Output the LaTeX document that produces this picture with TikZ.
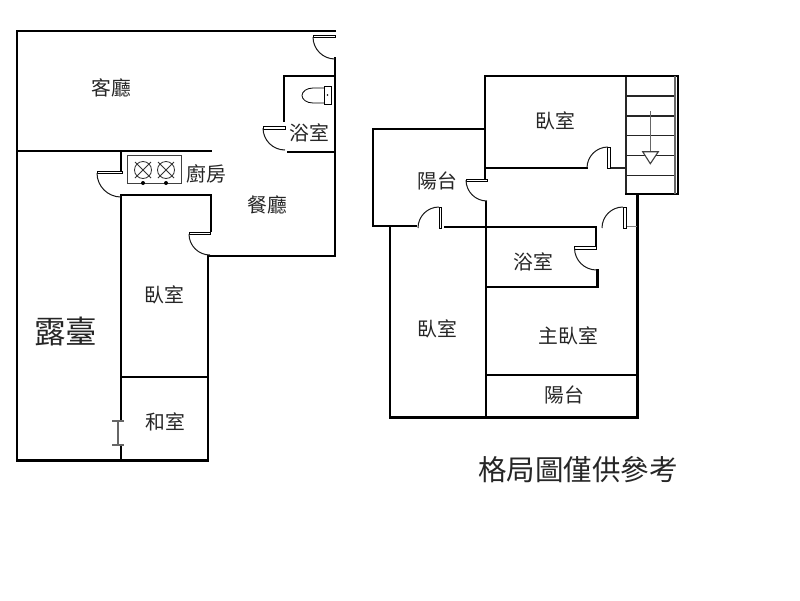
\documentclass[tikz,border=0pt]{standalone}
\usepackage{fontspec}
\setmainfont{Noto Sans CJK TC}
\tikzset{
  wall/.style={line width=2.4pt,line cap=rect,draw=black},
  hair/.style={line width=1.1pt,draw=black!85},
  grayline/.style={line width=1.3pt,draw=black!60},
  leaf/.style={line width=.8pt,draw=black,fill=white},
  swing/.style={line width=1pt,draw=black!90},
  room/.style={inner sep=0pt,text=black!85,font=\fontsize{19.8}{20}\selectfont},
}
\begin{document}
\begin{tikzpicture}[x=1pt,y=-1pt]
\useasboundingbox[fill=white] (0,0) rectangle (800,600);
% ---------- left plan ----------
\draw[wall] (335,31) -- (17,31) -- (17,460.5) -- (208,460.5) -- (208,256) -- (335,256) -- (335,58);
\draw[wall] (17,151) -- (211,151);
\draw[wall] (121,151) -- (121,172);
\draw[wall] (121,195) -- (211,195) -- (211,231);
\draw[wall] (121,195) -- (121,421);
\draw[wall] (121,445) -- (121,460);
\draw[wall] (121,377) -- (208,377);
\draw[wall] (335,76) -- (284,76) -- (284,121);
\draw[wall] (288,152) -- (335,152);
% doors, left
\draw[leaf] (313,35) rectangle (335,37.5);
\draw[swing] (313,37) arc[start angle=180,end angle=90,radius=22];
\draw[leaf] (263,126.5) rectangle (285,129);
\draw[swing] (263,128) arc[start angle=180,end angle=90,radius=22];
\draw[leaf] (97,171) rectangle (122,173.5);
\draw[swing] (97,173) arc[start angle=180,end angle=90,radius=24];
\draw[leaf] (189,232) rectangle (210,234.5);
\draw[swing] (189,234) arc[start angle=180,end angle=90,radius=21];
\draw[grayline] (112,421) -- (124,421) (118,421) -- (118,445) (112,445) -- (124,445);
% toilet
\draw[line width=.8pt] (324,86) rectangle (331,104.5);
\draw[line width=.8pt] (324,88) -- (313,88) arc[start angle=-90,end angle=-270,x radius=11,y radius=7.5] -- (324,103);
\fill (327.5,95) circle[radius=.8];
% stove
\draw[line width=1pt,draw=black!75] (127,155) rectangle (181.5,183.5);
\foreach \cx in {143,166}{
  \draw[line width=.8pt,draw=black!80] (\cx,170) circle[radius=8.5];
  \draw[line width=.8pt,draw=black!80] (\cx-8,162) -- (\cx+8,178) (\cx-8,178) -- (\cx+8,162);
  \fill (\cx,183) circle[radius=2];
}
% ---------- right plan ----------
\draw[wall] (626,76) -- (485,76) -- (485,179);
\draw[wall] (485,129) -- (373,129) -- (373,226) -- (416,226);
\draw[wall] (485,168) -- (587,168);
\draw[wall] (445,227) -- (596,227) -- (596,246);
\draw[wall] (597.5,270) -- (597.5,287) -- (486,287);
\draw[wall] (486,202) -- (486,417.5);
\draw[wall] (390,226) -- (390,417.5) -- (637.5,417.5) -- (637.5,194);
\draw[wall] (487,375) -- (637.5,375);
% stairs
\draw[hair] (626,76) -- (626,194);
\foreach \sy in {96,116,135.7,155.3,175.3}{\draw[hair] (626,\sy) -- (675,\sy);}
\draw[wall] (626,76) -- (678,76) -- (678,194) -- (626,194);
\draw[hair,draw=black!60] (675,76) -- (675,194);
\draw[grayline] (650.3,111) -- (650.3,152);
\draw[line width=1.1pt,draw=black!75,fill=white] (642.7,151.7) -- (658.3,151.7) -- (650.3,163.7) -- cycle;
\draw[hair] (610,168) -- (626,168);
\draw[hair,draw=black!50] (627,226.5) -- (637,226.5);
% doors, right
\draw[leaf] (607.5,147) rectangle (610,168);
\draw[swing] (587,168) arc[start angle=180,end angle=270,radius=21];
\draw[leaf] (439,207) rectangle (441.5,228);
\draw[swing] (418,228) arc[start angle=180,end angle=270,radius=21];
\draw[leaf] (623.5,207) rectangle (626,228);
\draw[swing] (602,228) arc[start angle=180,end angle=270,radius=21];
\draw[leaf] (466,179) rectangle (487,181.5);
\draw[swing] (466,180) arc[start angle=180,end angle=90,radius=21];
\draw[leaf] (574.5,246.5) rectangle (596.5,249);
\draw[swing] (574.5,248) arc[start angle=180,end angle=90,radius=22];
% ---------- labels ----------
\node[room] (keting) at (111,87.5) {客廳};
\node[room] (yushiA) at (309.5,133) {浴室};
\node[room] (chufang) at (206,173.5) {廚房};
\node[room] (canting) at (267,204.5) {餐廳};
\node[room] (woshiA) at (164,295) {臥室};
\node[room,font=\fontsize{31.5}{32}\selectfont] (lutai) at (65.5,332) {露臺};
\node[room] (heshi) at (165,422) {和室};
\node[room] (woshiB) at (555,121) {臥室};
\node[room] (yangtaiA) at (437,181) {陽台};
\node[room] (yushiB) at (533,262) {浴室};
\node[room] (woshiC) at (437,329) {臥室};
\node[room] (zhuwo) at (568.5,336) {主臥室};
\node[room] (yangtaiB) at (564,395) {陽台};
\node[room,font=\fontsize{28.5}{29}\selectfont] (note) at (578,470) {格局圖僅供參考};
\end{tikzpicture}
\end{document}
